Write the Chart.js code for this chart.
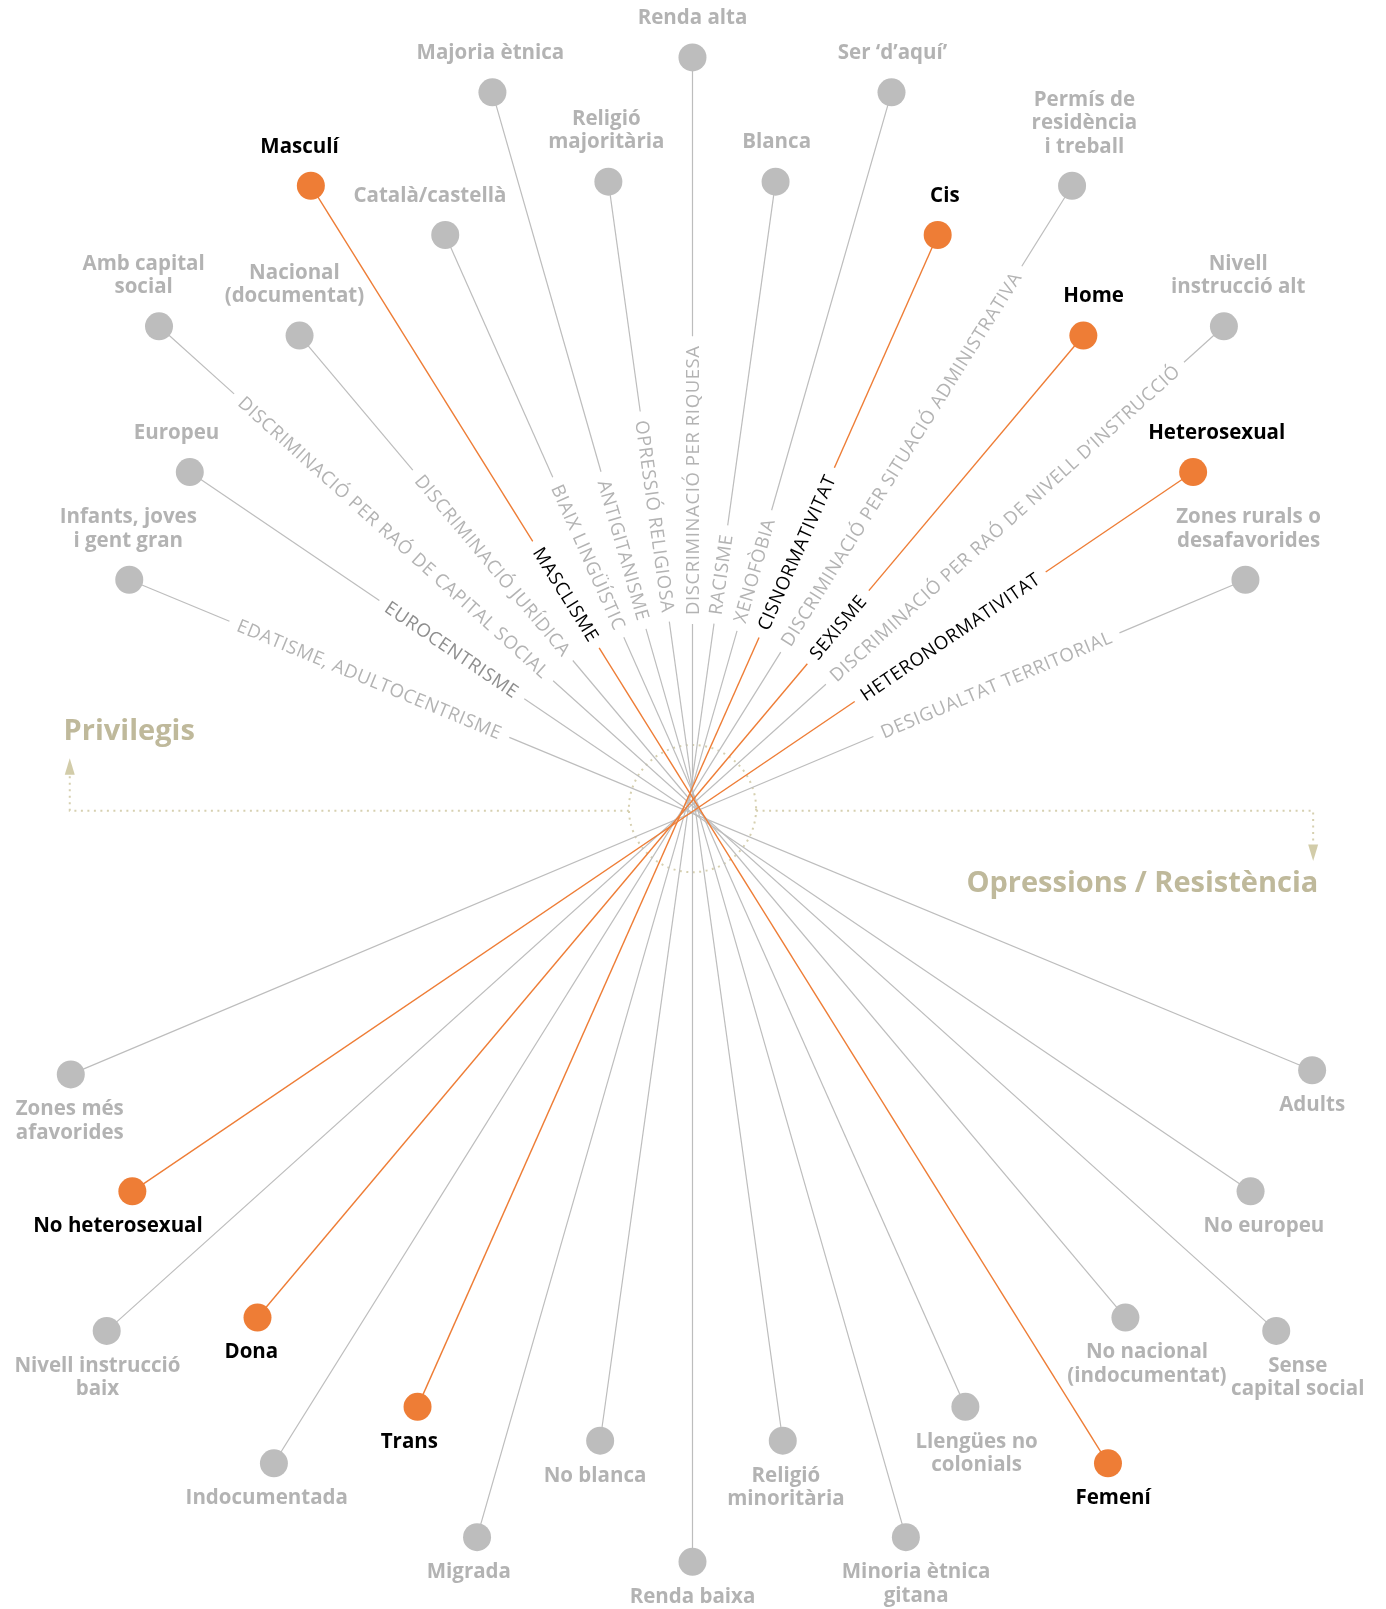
<!DOCTYPE html>
<html>
<head>
<meta charset="utf-8">
<script src="https://cdn.jsdelivr.net/npm/chart.js@4.4.0/dist/chart.umd.min.js"></script>
<style>
html, body { margin: 0; padding: 0; background: #fff; }
canvas { display: block; }
</style>
</head>
<body>
<canvas id="myChart" width="1386" height="1609"></canvas>
<script>
// eixos (discriminacions)
const categories = [
  "DISCRIMINACIÓ PER RIQUESA", "ANTIGITANISME", "XENOFÒBIA", "OPRESSIÓ RELIGIOSA",
  "RACISME", "MASCLISME", "DISCRIMINACIÓ PER SITUACIÓ ADMINISTRATIVA", "BIAIX LINGÜÍSTIC",
  "CISNORMATIVITAT", "DISCRIMINACIÓ PER RAÓ DE CAPITAL SOCIAL", "DISCRIMINACIÓ JURÍDICA",
  "SEXISME", "DISCRIMINACIÓ PER RAÓ DE NIVELL D’INSTRUCCIÓ", "EUROCENTRISME",
  "HETERONORMATIVITAT", "EDATISME, ADULTOCENTRISME", "DESIGUALTAT TERRITORIAL"
];
// extrem privilegi (a dalt)
const privilegis = [
  ["Renda alta"], ["Majoria ètnica"], ["Ser ‘d’aquí’"], ["Religió", "majoritària"],
  ["Blanca"], ["Masculí"], ["Permís de", "residència", "i treball"], ["Català/castellà"],
  ["Cis"], ["Amb capital", "social"], ["Nacional", "(documentat)"], ["Home"],
  ["Nivell", "instrucció alt"], ["Europeu"], ["Heterosexual"], ["Infants, joves", "i gent gran"],
  ["Zones rurals o", "desafavorides"]
];
// extrem opressió (a baix)
const opressions = [
  ["Renda baixa"], ["Minoria ètnica", "gitana"], ["Migrada"], ["Religió", "minoritària"],
  ["No blanca"], ["Femení"], ["Indocumentada"], ["Llengües no", "colonials"],
  ["Trans"], ["Sense", "capital social"], ["No nacional", "(indocumentat)"], ["Dona"],
  ["Nivell instrucció", "baix"], ["No europeu"], ["No heterosexual"], ["Adults"],
  ["Zones més", "afavorides"]
];
const privX = [0, -195, 194, -82, 81, -372, 370, -241, 239, -520, -383, 381, 518, -490, 488, -549, 539];
const privY = [734, 700, 700, 613, 613, 609, 609, 561, 561, 472, 463, 463, 472, 330, 330, 225, 225];
const opX = [0, 208, -210, 88, -90, 405, -408, 266, -268, 569, 422, -424, -571, 544, -546, 604, -606];
const opY = [-732, -708, -708, -614, -614, -636, -636, -581, -581, -507, -494, -494, -507, -371, -371, -253, -257];
const genere = [false, false, false, false, false, true, false, false, true, false, false, true, false, false, true, false, false];

// posició del rètol sobre cada línia (fracció des del punt de dalt)
const labelPos = [0.281, 0.317, 0.331, 0.266, 0.312, 0.320, 0.214, 0.275, 0.271, 0.210, 0.234, 0.297, 0.196, 0.247, 0.229, 0.203, 0.212];
const privDx = [0, -2, 1, -2, 1, -11, 12, -15, 7, -15, -5, 10, 14, -13, 23, -1, 3];
const opDx = [0, 10, -8, 3, -5, 5, -7, 11, -8, 21, 21, -6, -9, 13, -14, 0, -1];

const W = 1386, H = 1609;
const xMin = -675, xMax = 676, yMin = -778, yMax = 790;
const unit = W / (xMax - xMin);

const gris = "#bdbdbd";
const taronja = "#ee7d36";
const textGris = "#b3b3b3";
const beix = "#bfb99b";
const puntejat = "#d6d0b0";
const fontCat = "400 18.5px 'Open Sans'";
const spacingCat = "0.6px";
const fontNom = "bold 20.5px 'Open Sans'";

const mctx = document.createElement("canvas").getContext("2d");
mctx.font = fontCat;
mctx.letterSpacing = spacingCat;

const datasets = categories.map(function (cat, i) {
  const top = { x: privX[i], y: privY[i] };
  const bot = { x: opX[i], y: opY[i] };
  const dx = bot.x - top.x, dy = bot.y - top.y;
  const len = Math.sqrt(dx * dx + dy * dy);
  const ux = dx / len, uy = dy / len;
  const px = top.x + dx * labelPos[i], py = top.y + dy * labelPos[i];
  const half = (mctx.measureText(cat).width / 2 + 9) / unit;
  const col = genere[i] ? taronja : gris;
  return {
    label: cat,
    data: [top, { x: px - ux * half, y: py - uy * half }, { x: px + ux * half, y: py + uy * half }, bot],
    showLine: true,
    borderColor: col,
    borderWidth: genere[i] ? 1.4 : 1.2,
    pointRadius: [14, 0, 0, 14],
    pointHoverRadius: [14, 0, 0, 14],
    pointBackgroundColor: col,
    pointBorderWidth: 0,
    segment: { borderColor: function (c) { return c.p0DataIndex === 1 ? "rgba(0,0,0,0)" : undefined; } },
    order: genere[i] ? 0 : 1,
    clip: false
  };
});

const decor = {
  id: "decor",
  beforeDatasetsDraw: function (chart) {
    const ctx = chart.ctx, sx = chart.scales.x, sy = chart.scales.y;
    ctx.save();
    ctx.strokeStyle = puntejat;
    ctx.lineWidth = 2;
    ctx.setLineDash([2, 4.5]);
    const y0 = sy.getPixelForValue(0);
    const rx = 62 * unit;
    const cx = sx.getPixelForValue(0), cy = sy.getPixelForValue(2);
    ctx.beginPath();
    ctx.ellipse(cx, cy, rx, rx, 0, 0, Math.PI * 2);
    ctx.stroke();
    const xl = sx.getPixelForValue(-607), xr = sx.getPixelForValue(605);
    ctx.beginPath();
    ctx.moveTo(cx - rx, y0); ctx.lineTo(xl, y0); ctx.lineTo(xl, sy.getPixelForValue(35));
    ctx.moveTo(cx + rx, y0); ctx.lineTo(xr, y0); ctx.lineTo(xr, sy.getPixelForValue(-33));
    ctx.stroke();
    ctx.setLineDash([]);
    ctx.fillStyle = "#d2cca9";
    ctx.beginPath();
    ctx.moveTo(xl, sy.getPixelForValue(51)); ctx.lineTo(xl - 5, sy.getPixelForValue(35)); ctx.lineTo(xl + 5, sy.getPixelForValue(35));
    ctx.fill();
    ctx.beginPath();
    ctx.moveTo(xr, sy.getPixelForValue(-49)); ctx.lineTo(xr - 5, sy.getPixelForValue(-33)); ctx.lineTo(xr + 5, sy.getPixelForValue(-33));
    ctx.fill();
    ctx.fillStyle = beix;
    ctx.font = "bold 29px 'Open Sans'";
    ctx.textBaseline = "middle";
    ctx.textAlign = "left";
    ctx.fillText("Privilegis", sx.getPixelForValue(-613), sy.getPixelForValue(77));
    ctx.textAlign = "right";
    ctx.fillText("Opressions / Resistència", sx.getPixelForValue(610), sy.getPixelForValue(-71));
    ctx.restore();
  },
  afterDatasetsDraw: function (chart) {
    const ctx = chart.ctx;
    ctx.save();
    ctx.textBaseline = "middle";
    ctx.textAlign = "center";
    const lh = 23.5;
    chart.data.datasets.forEach(function (ds, i) {
      const m = chart.getDatasetMeta(i).data;
      const a = m[0], g1 = m[1], g2 = m[2], b = m[3];
      // rètol de la discriminació
      const mx = (g1.x + g2.x) / 2, my = (g1.y + g2.y) / 2;
      let ang = (a.x < b.x) ? Math.atan2(b.y - a.y, b.x - a.x) : Math.atan2(a.y - b.y, a.x - b.x);
      ctx.save();
      ctx.translate(mx, my);
      ctx.rotate(ang);
      ctx.font = fontCat;
      ctx.letterSpacing = spacingCat;
      ctx.fillStyle = genere[i] ? "#000" : (i === 13 ? "#8e8e8e" : textGris);
      ctx.fillText(categories[i], 0, 1);
      ctx.restore();
      // noms dels extrems
      ctx.font = fontNom;
      ctx.fillStyle = genere[i] ? "#000" : textGris;
      const p = privilegis[i];
      p.forEach(function (t, k) {
        ctx.fillText(t, a.x + privDx[i] * unit, a.y - 39 - (p.length - 1 - k) * lh);
      });
      const o = opressions[i];
      o.forEach(function (t, k) {
        ctx.fillText(t, b.x + opDx[i] * unit, b.y + 35 + k * lh);
      });
    });
    ctx.restore();
  }
};

new Chart(document.getElementById("myChart").getContext("2d"), {
  type: "scatter",
  data: { datasets: datasets },
  options: {
    responsive: false,
    animation: false,
    devicePixelRatio: 1,
    layout: { padding: 0, autoPadding: false },
    plugins: { legend: { display: false }, tooltip: { enabled: false } },
    events: [],
    scales: {
      x: { type: "linear", min: xMin, max: xMax, display: false },
      y: { type: "linear", min: yMin, max: yMax, display: false }
    }
  },
  plugins: [decor]
});
</script>
</body>
</html>
